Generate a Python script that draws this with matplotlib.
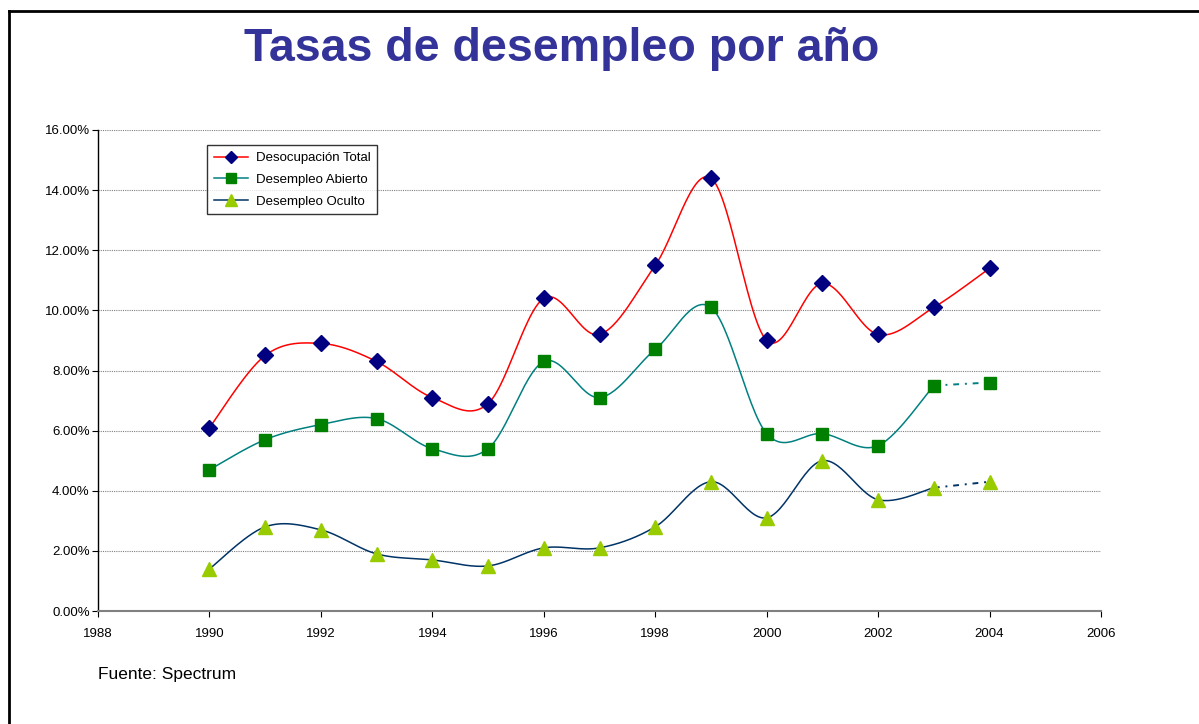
import numpy as np
import matplotlib
matplotlib.use("Agg")
import matplotlib.pyplot as plt
from matplotlib.lines import Line2D
from matplotlib.ticker import FuncFormatter, MultipleLocator

years = [1990, 1991, 1992, 1993, 1994, 1995, 1996, 1997, 1998, 1999, 2000, 2001, 2002, 2003, 2004]
desocupacion_total = [6.1, 8.5, 8.9, 8.3, 7.1, 6.9, 10.4, 9.2, 11.5, 14.4, 9.0, 10.9, 9.2, 10.1, 11.4]
desempleo_abierto = [4.7, 5.7, 6.2, 6.4, 5.4, 5.4, 8.3, 7.1, 8.7, 10.1, 5.9, 5.9, 5.5, 7.5, 7.6]
desempleo_oculto = [1.4, 2.8, 2.7, 1.9, 1.7, 1.5, 2.1, 2.1, 2.8, 4.3, 3.1, 5.0, 3.7, 4.1, 4.3]
labels = ["Desocupación Total", "Desempleo Abierto", "Desempleo Oculto"]

plt.rcParams['font.family'] = ['Liberation Sans', 'DejaVu Sans']


def smooth(x, y, n=30):
    """Excel-like smoothed line (Catmull-Rom Bezier) through the points."""
    x = np.asarray(x, float)
    y = np.asarray(y, float)
    px = np.concatenate([[x[0]], x, [x[-1]]])
    py = np.concatenate([[y[0]], y, [y[-1]]])
    xs, ys = [], []
    t = np.linspace(0, 1, n)
    for i in range(1, len(px) - 2):
        p0 = np.array([px[i - 1], py[i - 1]])
        p1 = np.array([px[i], py[i]])
        p2 = np.array([px[i + 1], py[i + 1]])
        p3 = np.array([px[i + 2], py[i + 2]])
        c1 = p1 + (p2 - p0) / 6.0
        c2 = p2 - (p3 - p1) / 6.0
        b = ((1 - t) ** 3)[:, None] * p1 + (3 * (1 - t) ** 2 * t)[:, None] * c1 \
            + (3 * (1 - t) * t ** 2)[:, None] * c2 + (t ** 3)[:, None] * p2
        xs.extend(b[:, 0])
        ys.extend(b[:, 1])
    return np.array(xs), np.array(ys)


fig = plt.figure(figsize=(11.99, 7.24), dpi=100)
ax = fig.add_axes([98 / 1199, 1 - 611 / 724, 1003 / 1199, 481 / 724])

c_total, m_total = '#FF0000', '#000080'
c_ab, m_ab = '#008080', '#008000'
c_oc, m_oc = '#003366', '#99CC00'
ms_d, ms_s, ms_t = 8, 8, 10.5

# Total: smoothed over all years
sx, sy = smooth(years, desocupacion_total)
ax.plot(sx, sy, color=c_total, lw=1.1, zorder=3)
ax.plot(years, desocupacion_total, ls='none', marker='D', ms=ms_d, color=m_total, zorder=4)

# Abierto: smoothed up to 2003, dotted to 2004
sx, sy = smooth(years[:-1], desempleo_abierto[:-1])
ax.plot(sx, sy, color=c_ab, lw=1.1, zorder=3)
ax.plot(years[-2:], desempleo_abierto[-2:], color=c_ab, lw=1.4, ls=(0, (3, 3, 1, 3)), zorder=3)
ax.plot(years, desempleo_abierto, ls='none', marker='s', ms=ms_s, color=m_ab, zorder=4)

# Oculto
sx, sy = smooth(years[:-1], desempleo_oculto[:-1])
ax.plot(sx, sy, color=c_oc, lw=1.1, zorder=3)
ax.plot(years[-2:], desempleo_oculto[-2:], color=c_oc, lw=1.4, ls=(0, (3, 3, 1, 3)), zorder=3)
ax.plot(years, desempleo_oculto, ls='none', marker='^', ms=ms_t, color=m_oc, zorder=4)

ax.set_xlim(1988, 2006)
ax.set_ylim(0, 16)
ax.xaxis.set_major_locator(MultipleLocator(2))
ax.yaxis.set_major_locator(MultipleLocator(2))
ax.yaxis.set_major_formatter(FuncFormatter(lambda v, p: f"{v:.2f}%"))
ax.grid(axis='y', color='#808080', ls=(0, (1, 1)), lw=0.8)
ax.set_axisbelow(True)
for s in ['top', 'right']:
    ax.spines[s].set_visible(False)
ax.spines['left'].set_color('black')
ax.spines['bottom'].set_color('#808080')
ax.spines['left'].set_linewidth(1.0)
ax.spines['bottom'].set_linewidth(1.5)
ax.tick_params(axis='both', labelsize=9.5, length=4, direction='out', colors='black')
ax.tick_params(axis='y', pad=2)
ax.tick_params(axis='x', pad=8)

handles = [
    Line2D([], [], color=c_total, marker='D', ms=6.5, mfc=m_total, mec=m_total, lw=1.1),
    Line2D([], [], color=c_ab, marker='s', ms=7, mfc=m_ab, mec=m_ab, lw=1.1),
    Line2D([], [], color=c_oc, marker='^', ms=9, mfc=m_oc, mec=m_oc, lw=1.1),
]
leg = ax.legend(handles, labels, loc='upper left', bbox_to_anchor=(0.109, 0.968),
                borderaxespad=0, fontsize=9.5, frameon=True, fancybox=False, edgecolor='black',
                handlelength=2.6, borderpad=0.5, labelspacing=0.72, handletextpad=0.6)
leg.get_frame().set_linewidth(1.0)

fig.text(562 / 1199, 1 - 49 / 724, "Tasas de desempleo por año", ha='center', va='center',
         fontsize=33.5, fontweight='bold', color='#333399')
fig.text(98 / 1199, 1 - 675 / 724, "Fuente: Spectrum", ha='left', va='center', fontsize=12.5)

# outer frame (left and top)
fig.add_artist(Line2D([9 / 1199, 9 / 1199], [0, 1 - 11 / 724], color='black', lw=2,
                      transform=fig.transFigure))
fig.add_artist(Line2D([9 / 1199, 1], [1 - 11 / 724, 1 - 11 / 724], color='black', lw=2,
                      transform=fig.transFigure))

fig.savefig("out.png", dpi=100)
